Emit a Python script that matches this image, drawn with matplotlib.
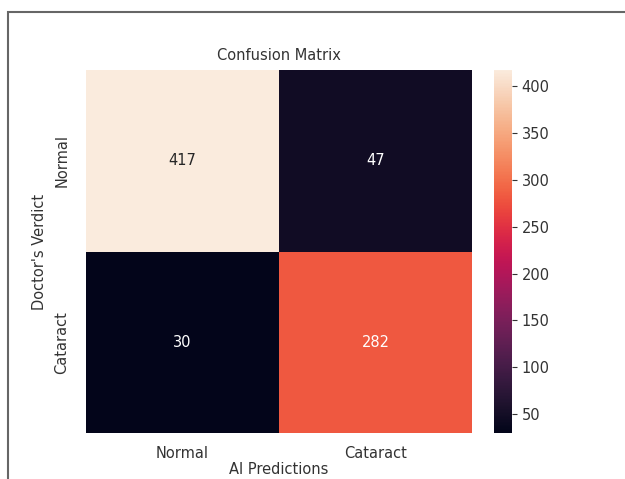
import matplotlib
matplotlib.use("Agg")
import matplotlib.pyplot as plt
import seaborn as sns
import numpy as np
from matplotlib.patches import Rectangle

# Confusion matrix counts: rows = doctor's verdict, columns = AI predictions
class_names = ["Normal", "Cataract"]
normal_row = [417, 47]
cataract_row = [30, 282]
cbar_ticks = [50, 100, 150, 200, 250, 300, 350, 400]

cm = np.array([normal_row, cataract_row])

fig = plt.figure(figsize=(6.25, 4.79), dpi=100)
ax = fig.add_axes([0.1376, 0.0960, 0.6176, 0.7578])
cax = fig.add_axes([0.7904, 0.0960, 0.0288, 0.7578])

sns.heatmap(cm, annot=True, fmt="d", cmap="rocket", ax=ax, cbar_ax=cax,
            xticklabels=class_names, yticklabels=class_names,
            annot_kws={"fontsize": 10.5})

txt = "#333333"
ax.set_title("Confusion Matrix", fontsize=10.5, color=txt, pad=7)
ax.set_xlabel("AI Predictions", fontsize=10.5, color=txt, labelpad=1)
ax.set_ylabel("Doctor's Verdict", fontsize=10.5, color=txt, labelpad=5)
ax.tick_params(axis="both", length=0, labelsize=10.5, labelcolor=txt)
ax.tick_params(axis="x", pad=9)
ax.tick_params(axis="y", pad=12)
plt.setp(ax.get_yticklabels(), rotation=90, va="center")
plt.setp(ax.get_xticklabels(), rotation=0)

cax.set_yticks(cbar_ticks)
cax.tick_params(labelsize=10.5, labelcolor=txt, color=txt)

# frame around the output cell
fig.add_artist(Rectangle((8 / 625, -0.1), 1.2, 1.1 - 12 / 479,
                         transform=fig.transFigure, fill=False,
                         edgecolor="#666666", linewidth=1.5, clip_on=False))

fig.savefig("out.png", dpi=100)
